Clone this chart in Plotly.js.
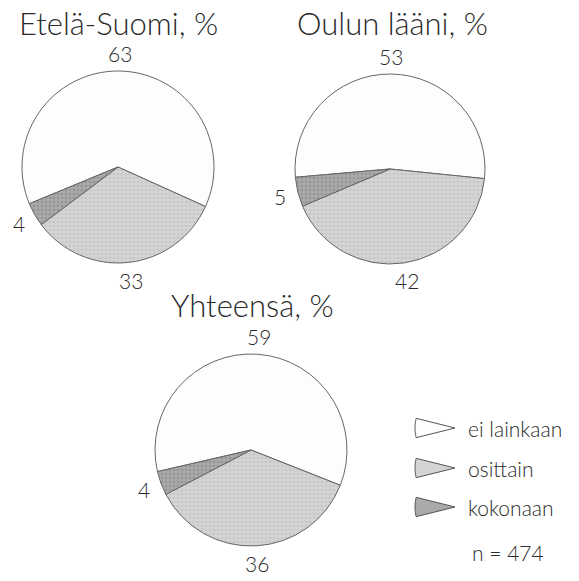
<!DOCTYPE html>
<html>
<head>
<meta charset="utf-8">
<script src="https://cdn.plot.ly/plotly-3.0.1.min.js"></script>
<style>html,body{margin:0;padding:0;background:#fff;}#chart{width:579px;height:581px;}</style>
</head>
<body>
<div id="chart"></div>
<script>
// Data
var categories = ["ei lainkaan", "osittain", "kokonaan"];
var regions = ["Etelä-Suomi, %", "Oulun lääni, %", "Yhteensä, %"];
var eteläSuomi = [63, 33, 4];
var oulunLääni = [53, 42, 5];
var yhteensä = [59, 36, 4];
var sampleNote = "n = 474";

var sliceColors = ["#fdfdfd", "#d4d4d4", "#aaaaaa"];
var patternFg = ["#fdfdfd", "#b8b8b8", "#7e7e7e"];
var W = 579, H = 581;
var FONT = "Lato, 'Open Sans', sans-serif";

function px2x(x){ return x / W; }
function px2y(y){ return 1 - y / H; }

// pie geometry in pixels (center x, center y, radius) and rotation
var pies = [
  {vals: eteläSuomi, cx: 118, cy: 167, r: 96, rot: 247.5, title: regions[0], tx: 118, ty: 23},
  {vals: oulunLääni, cx: 390, cy: 169, r: 95, rot: 265, title: regions[1], tx: 392, ty: 23},
  {vals: yhteensä, cx: 251, cy: 450, r: 96, rot: 257, title: regions[2], tx: 252, ty: 305}
];

var data = pies.map(function(p, i){
  return {
    type: "pie",
    labels: categories,
    values: p.vals,
    sort: false,
    direction: "clockwise",
    rotation: p.rot,
    textinfo: "none",
    hoverinfo: "label+value",
    marker: {colors: sliceColors, line: {color: "#666", width: 1},
      pattern: {shape: ["", ".", "."], fgcolor: patternFg, size: 4, solidity: 0.35, fillmode: "overlay"}},
    domain: {x: [px2x(p.cx - p.r), px2x(p.cx + p.r)], y: [px2y(p.cy + p.r), px2y(p.cy - p.r)]},
    showlegend: false
  };
});

var annotations = [];
pies.forEach(function(p){
  annotations.push({text: p.title, xref: "paper", yref: "paper", x: px2x(p.tx), y: px2y(p.ty),
    xanchor: "center", yanchor: "middle", showarrow: false,
    font: {family: FONT, size: 31, weight: 300, color: "#2a2a2a"}});
  // value labels placed outside each slice at its mid-angle
  var total = p.vals.reduce(function(a, b){ return a + b; }, 0);
  var ang = p.rot;
  p.vals.forEach(function(v){
    var span = v / total * 360;
    var mid = (ang + span / 2) * Math.PI / 180;
    ang += span;
    var d = p.r + 18;
    annotations.push({text: String(v), xref: "paper", yref: "paper",
      x: px2x(p.cx + d * Math.sin(mid)), y: px2y(p.cy - d * Math.cos(mid)),
      xanchor: "center", yanchor: "middle", showarrow: false,
      font: {family: FONT, size: 21, weight: 300, color: "#2a2a2a"}});
  });
});

// custom legend (wedge icons)
var legendRows = [428, 468, 507];
var shapes = [];
legendRows.forEach(function(y, i){
  var tipX = 455, rad = 40, half = 14 * Math.PI / 180;
  var pts = [];
  for (var k = 0; k <= 12; k++) {
    var a = Math.PI - half + (2 * half) * k / 12;
    pts.push([tipX + rad * Math.cos(a), y + rad * Math.sin(a)]);
  }
  var path = "M " + px2x(tipX) + "," + px2y(y);
  pts.forEach(function(pt){ path += " L " + px2x(pt[0]) + "," + px2y(pt[1]); });
  path += " Z";
  shapes.push({type: "path", xref: "paper", yref: "paper", path: path,
    fillcolor: sliceColors[i], line: {color: "#555", width: 1}});
  annotations.push({text: categories[i], xref: "paper", yref: "paper", x: px2x(466), y: px2y(y),
    xanchor: "left", yanchor: "middle", showarrow: false,
    font: {family: FONT, size: 21, weight: 300, color: "#2a2a2a"}});
});
annotations.push({text: sampleNote, xref: "paper", yref: "paper", x: px2x(470), y: px2y(552),
  xanchor: "left", yanchor: "middle", showarrow: false,
  font: {family: FONT, size: 21, weight: 300, color: "#2a2a2a"}});

var layout = {
  width: W, height: H,
  margin: {l: 0, r: 0, t: 0, b: 0},
  paper_bgcolor: "#fff",
  showlegend: false,
  annotations: annotations,
  shapes: shapes
};

Plotly.newPlot("chart", data, layout, {displayModeBar: false, staticPlot: true});
</script>
</body>
</html>
